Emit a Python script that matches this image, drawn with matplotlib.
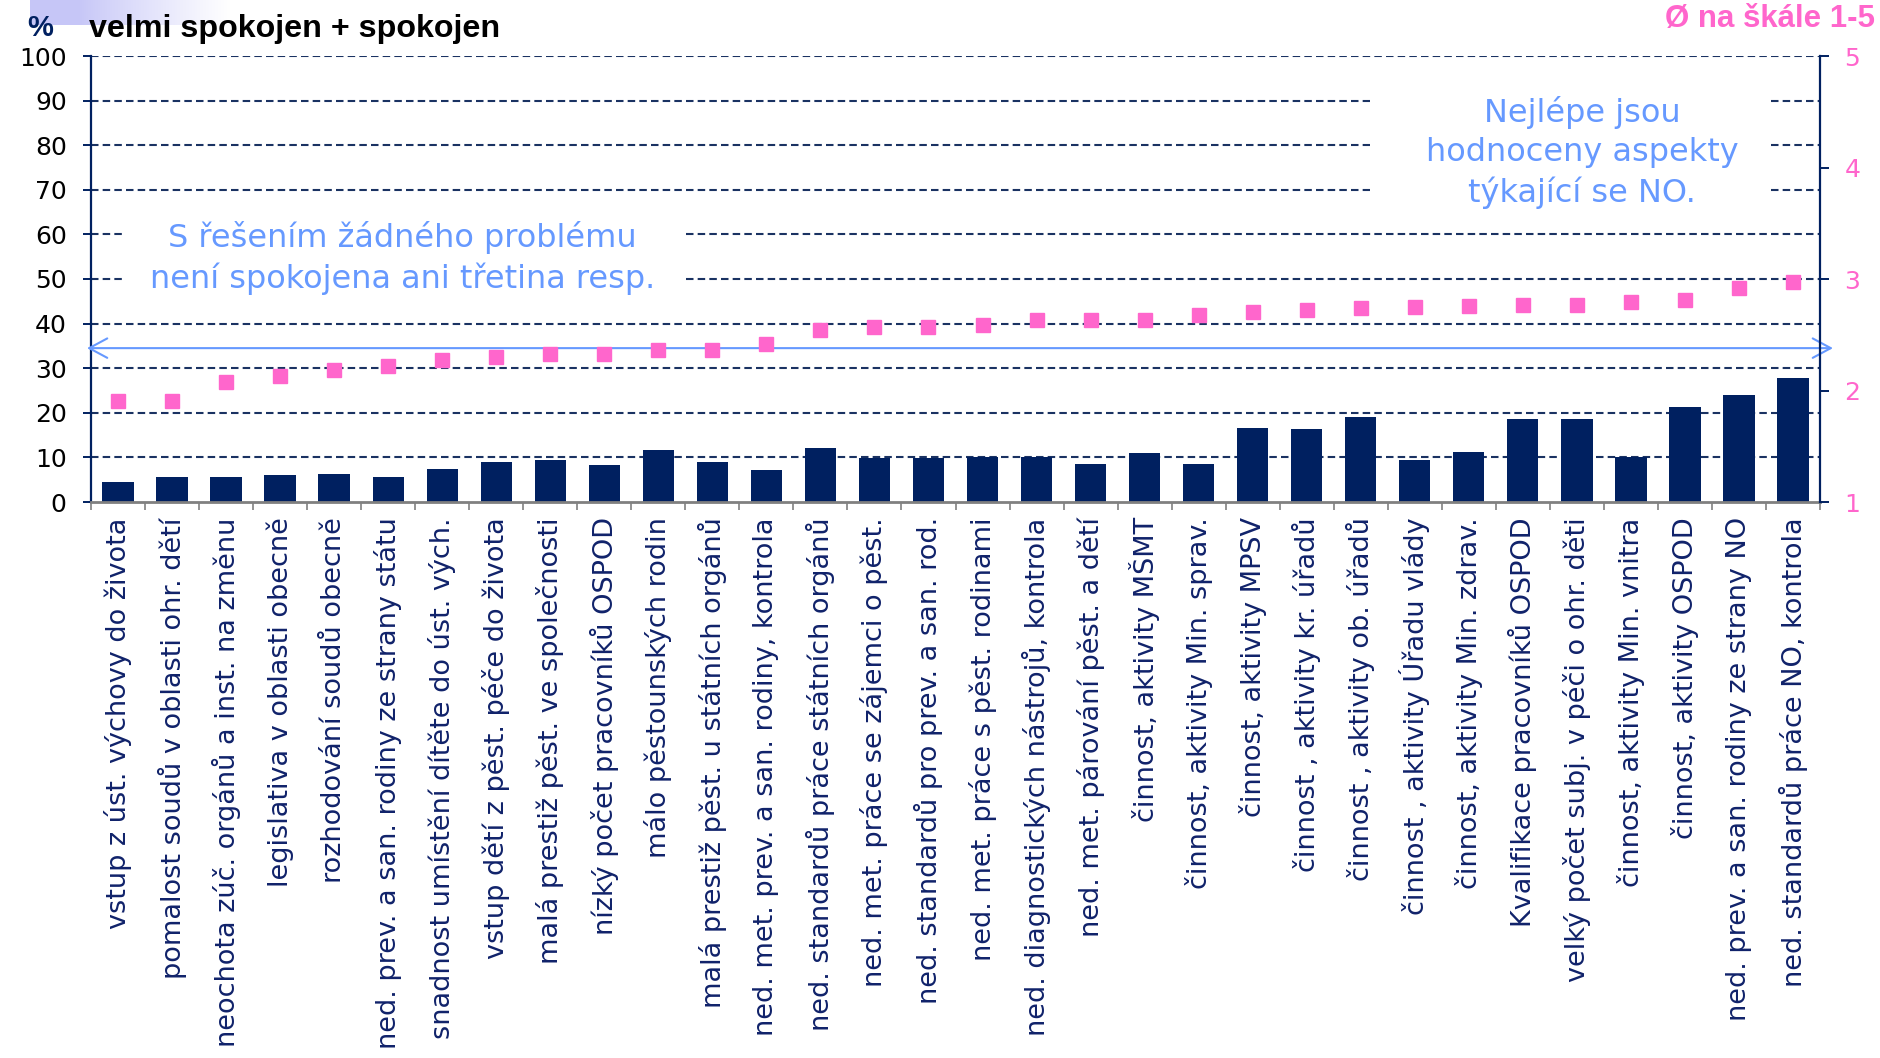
import numpy as np
import matplotlib.pyplot as plt
from matplotlib.patches import Rectangle

# kategorie (seřazeno podle průměru)
categories = [
    "vstup z úst. výchovy do života",
    "pomalost soudů v oblasti ohr. dětí",
    "neochota zúč. orgánů a inst. na změnu",
    "legislativa v oblasti obecně",
    "rozhodování soudů obecně",
    "ned. prev. a san. rodiny ze strany státu",
    "snadnost umístění dítěte do úst. vých.",
    "vstup dětí z pěst. péče do života",
    "malá prestiž pěst. ve společnosti",
    "nízký počet pracovníků OSPOD",
    "málo pěstounských rodin",
    "malá prestiž pěst. u státních orgánů",
    "ned. met. prev. a san. rodiny, kontrola",
    "ned. standardů práce státních orgánů",
    "ned. met. práce se zájemci o pěst.",
    "ned. standardů pro prev. a san. rod.",
    "ned. met. práce s pěst. rodinami",
    "ned. diagnostických nástrojů, kontrola",
    "ned. met. párování pěst. a dětí",
    "činnost, aktivity MŠMT",
    "činnost, aktivity Min. sprav.",
    "činnost, aktivity MPSV",
    "činnost , aktivity kr. úřadů",
    "činnost , aktivity ob. úřadů",
    "činnost , aktivity Úřadu vlády",
    "činnost, aktivity Min. zdrav.",
    "Kvalifikace pracovníků OSPOD",
    "velký počet subj. v péči o ohr. děti",
    "činnost, aktivity Min. vnitra",
    "činnost, aktivity OSPOD",
    "ned. prev. a san. rodiny ze strany NO",
    "ned. standardů práce NO, kontrola",
]

# % velmi spokojen + spokojen
satisfied = [4.4, 5.6, 5.6, 6.0, 6.2, 5.6, 7.4, 9.0, 9.4, 8.3,
             11.7, 9.0, 7.1, 12.1, 9.8, 9.8, 10.2, 10.2, 8.6, 10.9,
             8.6, 16.7, 16.4, 19.0, 9.4, 11.3, 18.6, 18.6, 10.2, 21.3,
             24.0, 27.7]

# průměr na škále 1-5
mean_score = [1.91, 1.91, 2.08, 2.13, 2.18, 2.22, 2.27, 2.30, 2.33, 2.33,
              2.36, 2.36, 2.42, 2.54, 2.57, 2.57, 2.59, 2.63, 2.63, 2.63,
              2.68, 2.70, 2.72, 2.74, 2.75, 2.76, 2.77, 2.77, 2.79, 2.81,
              2.92, 2.97]

threshold = 34.5

navy = '#002060'
label_navy = '#10226A'
pink = '#FF66CC'
light_blue = '#6699FF'
grid_navy = '#1A3262'

fig = plt.figure(figsize=(18.81, 10.58), dpi=100)
ax = fig.add_axes([91 / 1881, 1 - 502 / 1058, (1820 - 91) / 1881, (502 - 56) / 1058])
x = np.arange(len(categories))

# šedofialový přechod v levém horním rohu
grad_ax = fig.add_axes([30 / 1881, 1 - 25 / 1058, 200 / 1881, 25 / 1058], zorder=-5)
g = np.linspace(0, 1, 256)
rgb = np.ones((1, 256, 3))
base = np.array([0.78, 0.78, 0.97])
fade = np.clip((g - 0.25) / 0.75, 0, 1) ** 0.9
rgb[0] = base + (1 - base) * fade[:, None]
grad_ax.imshow(rgb, aspect='auto', extent=[0, 1, 0, 1])
grad_ax.axis('off')

ax.bar(x, satisfied, width=0.58, color=navy, zorder=3)

ax.set_xlim(-0.5, len(categories) - 0.5)
ax.set_ylim(0, 100)
ax.set_yticks(np.arange(0, 101, 10))
for v in range(10, 101, 10):
    ax.axhline(v, color=grid_navy, lw=1.5, ls=(0, (3.6, 2.0)), zorder=1)

ax.set_xticks(x)
ax.set_xticklabels(categories, rotation=90, fontsize=19.5, color=label_navy,
                   family='DejaVu Sans')
ax.set_xticks(np.arange(-0.5, len(categories)), minor=True)
ax.tick_params(axis='x', which='major', length=0, pad=11)
ax.tick_params(axis='x', which='minor', length=6, width=1.2, color='#808080', direction='out')
ax.tick_params(axis='y', length=6, width=1.4, color=navy, direction='out', pad=11.5,
               labelsize=18)

ax.spines['top'].set_visible(False)
ax.spines['right'].set_visible(False)
ax.spines['left'].set_color(navy)
ax.spines['left'].set_linewidth(1.6)
ax.spines['bottom'].set_color('#808080')
ax.spines['bottom'].set_linewidth(2)
ax.spines['bottom'].set_zorder(4)

ax2 = ax.twinx()
ax2.set_ylim(1, 5)
ax2.set_yticks([1, 2, 3, 4, 5])
ax2.plot(x, mean_score, ls='none', marker='s', ms=10, color=pink, mec=pink, zorder=5)
ax2.tick_params(axis='y', length=6.5, width=1.4, color=navy, direction='out', pad=11,
                labelsize=18, labelcolor=pink)
for s in ['top', 'left', 'bottom']:
    ax2.spines[s].set_visible(False)
ax2.spines['right'].set_color(navy)
ax2.spines['right'].set_linewidth(1.6)

# bílé podklady pod poznámkami
ax.add_patch(Rectangle((0.09, 44), 10.35, 22, facecolor='white', edgecolor='none', zorder=2))
ax.add_patch(Rectangle((23.17, 64), 7.37, 30, facecolor='white', edgecolor='none', zorder=2))

ax.text(5.26, 54.7, "S řešením žádného problému\nnení spokojena ani třetina resp.",
        ha='center', va='center', fontsize=23, color=light_blue, family='DejaVu Sans',
        linespacing=1.32, zorder=6)
ax.text(27.1, 78.4, "Nejlépe jsou\nhodnoceny aspekty\ntýkající se NO.",
        ha='center', va='center', fontsize=23, color=light_blue, family='DejaVu Sans',
        linespacing=1.32, zorder=6)

# oboustranná šipka - hranice třetiny
ax.annotate('', xy=(-0.574, threshold), xytext=(31.74, threshold),
            arrowprops=dict(arrowstyle='<->,head_length=0.65,head_width=0.35',
                            color=light_blue, lw=1.5, shrinkA=0, shrinkB=0,
                            mutation_scale=20),
            annotation_clip=False, zorder=6)

fig.text(27 / 1881, 1 - 36 / 1058, "%", fontsize=21, fontweight='bold', color=navy,
         family='Liberation Sans', ha='left', va='baseline')
fig.text(89 / 1881, 1 - 37 / 1058, "velmi spokojen + spokojen", fontsize=23.2,
         fontweight='bold', color='black', family='Liberation Sans', ha='left', va='baseline')
fig.text(1875 / 1881, 1 - 27 / 1058, "Ø na škále 1-5", fontsize=22.5, fontweight='bold',
         color=pink, family='Liberation Sans', ha='right', va='baseline')

fig.savefig('out.png', dpi=100)
